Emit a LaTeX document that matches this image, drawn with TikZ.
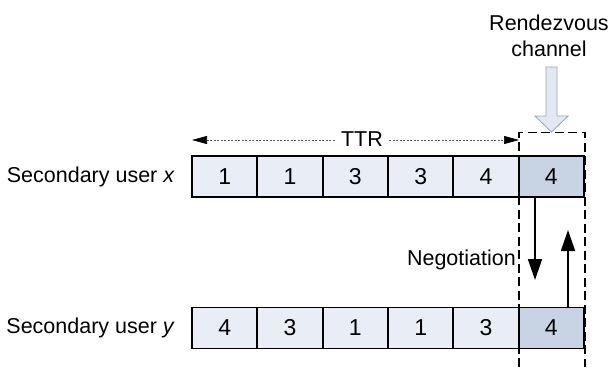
\documentclass[tikz,border=0pt]{standalone}
\usepackage{fontspec}
\setmainfont{Liberation Sans}
\usetikzlibrary{arrows.meta}
\definecolor{cellfill}{HTML}{E8EDF6}
\definecolor{hotfill}{HTML}{C8D4E4}
\definecolor{rvfill}{HTML}{E3E9F3}
\definecolor{rvdraw}{HTML}{9AA3AE}
\begin{document}
\begin{tikzpicture}[x=1pt,y=-1pt,
  cellbox/.style={draw=black,line width=1.8pt,fill=cellfill,minimum width=65.3pt,minimum height=41pt,inner sep=0pt,anchor=center,font=\fontsize{23}{27}\selectfont},
  hotbox/.style={cellbox,fill=hotfill},
  lbl/.style={inner sep=0pt,font=\fontsize{21.5}{25}\selectfont},
  dashline/.style={dash pattern=on 9pt off 4.5pt,line width=1.3pt},
  ttrline/.style={dash pattern=on 2pt off 1.5pt,line width=0.6pt,gray!70!black},
  negarrow/.style={line width=1.8pt,-{Triangle[length=21pt,width=14pt]}}]
\useasboundingbox (0,0) rectangle (608,367);
% top row
\foreach \i/\v in {1/1,2/1,3/3,4/3,5/4}{
  \node[cellbox] (x\i) at ({192+65.33*(\i-0.5)},176.5) {\v};
}
\node[hotbox] (x6) at ({192+65.33*5.5},176.5) {4};
% bottom row
\foreach \i/\v in {1/4,2/3,3/1,4/1,5/3}{
  \node[cellbox] (y\i) at ({192+65.33*(\i-0.5)},328) {\v};
}
\node[hotbox] (y6) at ({192+65.33*5.5},328) {4};
% labels
\node[lbl,anchor=east] (lx) at (175,176.5) {Secondary user \textit{x}};
\node[lbl,anchor=east] (ly) at (175,328) {Secondary user \textit{y}};
% dashed rendezvous box
\coordinate (bl) at (519,367);
\coordinate (tl) at (519,132.5);
\coordinate (tr) at (585,132.5);
\coordinate (br) at (585,367);
\draw[dashline] (bl) -- (tl) -- (tr) -- (br);
% TTR
\coordinate (ttrL) at (192,140);
\coordinate (ttrR) at (519,140);
\node[lbl,fill=white,inner xsep=6pt] (ttr) at (362,139) {TTR};
\draw[ttrline,{Triangle[length=15pt,width=8pt,color=black]}-] (ttrL) -- (ttr.west |- ttrL);
\draw[ttrline,-{Triangle[length=15pt,width=8pt,color=black]}] (ttr.east |- ttrR) -- (ttrR);
% rendezvous channel
\node[lbl,align=center,font=\fontsize{21.5}{26}\selectfont] (rv) at (549,36) {Rendezvous\\channel};
\draw[draw=rvdraw,fill=rvfill,line width=0.8pt]
  (546,67) -- (557,67) -- (557,116) -- (568,116) -- (551.5,132) -- (535,116) -- (546,116) -- cycle;
% negotiation
\coordinate (dn) at (535,280);
\coordinate (up) at (568,230);
\draw[negarrow] (x6.south -| dn) -- (dn);
\draw[negarrow] (y6.north -| up) -- (up);
\node[lbl,anchor=east] (neg) at (516,260) {Negotiation};
\end{tikzpicture}
\end{document}
